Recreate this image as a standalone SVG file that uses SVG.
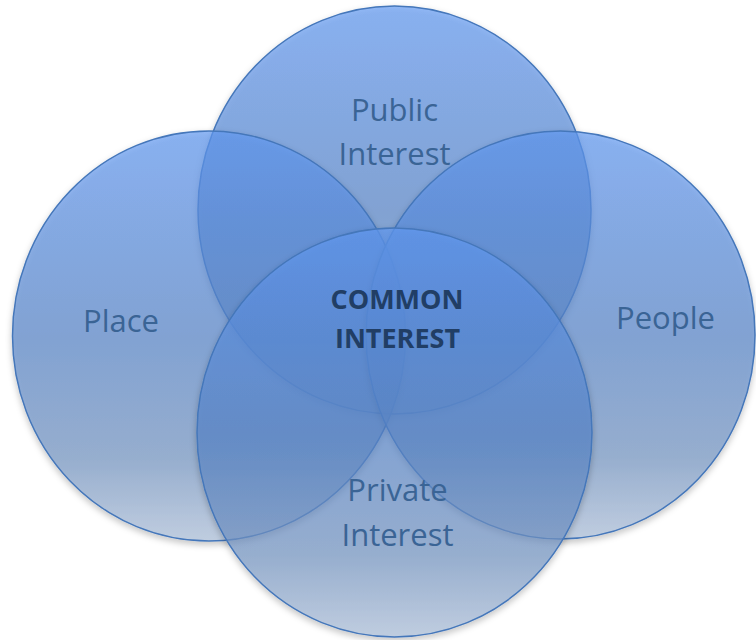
<svg xmlns="http://www.w3.org/2000/svg" width="756" height="640" viewBox="0 0 756 640">
  <defs>
    <linearGradient id="g" x1="0" y1="0" x2="0" y2="1">
      <stop offset="0" stop-color="#629AF4"/>
      <stop offset="0.5" stop-color="#5886CB"/>
      <stop offset="0.8" stop-color="#7697C5"/>
      <stop offset="1" stop-color="#B0C3DD"/>
    </linearGradient>
    <filter id="sh" x="-10%" y="-10%" width="120%" height="125%">
      <feDropShadow dx="0" dy="3" stdDeviation="3" flood-color="#000" flood-opacity="0.3"/>
    </filter>
  </defs>
  <style>
    .c { fill: url(#g); fill-opacity: 0.67; stroke: #4577BA; stroke-width: 1.5; filter: url(#sh); }
    .t { font-family: "Open Sans", "Noto Sans", sans-serif; font-size: 31px; fill: #3A6495; text-anchor: middle; }
    .b { font-family: "Open Sans", "Noto Sans", sans-serif; font-size: 27px; font-weight: bold; fill: #213E65; text-anchor: middle; }
  </style>
  <rect width="756" height="640" fill="#FFFFFF"/>
  <g id="public-interest">
    <ellipse class="c" cx="394.5" cy="210" rx="196.5" ry="204"/>
  </g>
  <g id="place">
    <ellipse class="c" cx="209" cy="336" rx="196.5" ry="205"/>
  </g>
  <g id="people">
    <ellipse class="c" cx="560.5" cy="335" rx="194.5" ry="204"/>
  </g>
  <g id="private-interest">
    <ellipse class="c" cx="394.5" cy="432.5" rx="197.5" ry="204.5"/>
  </g>
  <g id="connectors"></g>
  <g id="labels">
    <text class="t" x="394.5" y="121">Public</text>
    <text class="t" x="394.5" y="165">Interest</text>
    <text class="t" x="121" y="332">Place</text>
    <text class="t" x="665.5" y="329">People</text>
    <text class="t" x="397.5" y="501">Private</text>
    <text class="t" x="397.5" y="546">Interest</text>
    <text class="b" x="397" y="309">COMMON</text>
    <text class="b" x="397.5" y="348">INTEREST</text>
  </g>
</svg>
